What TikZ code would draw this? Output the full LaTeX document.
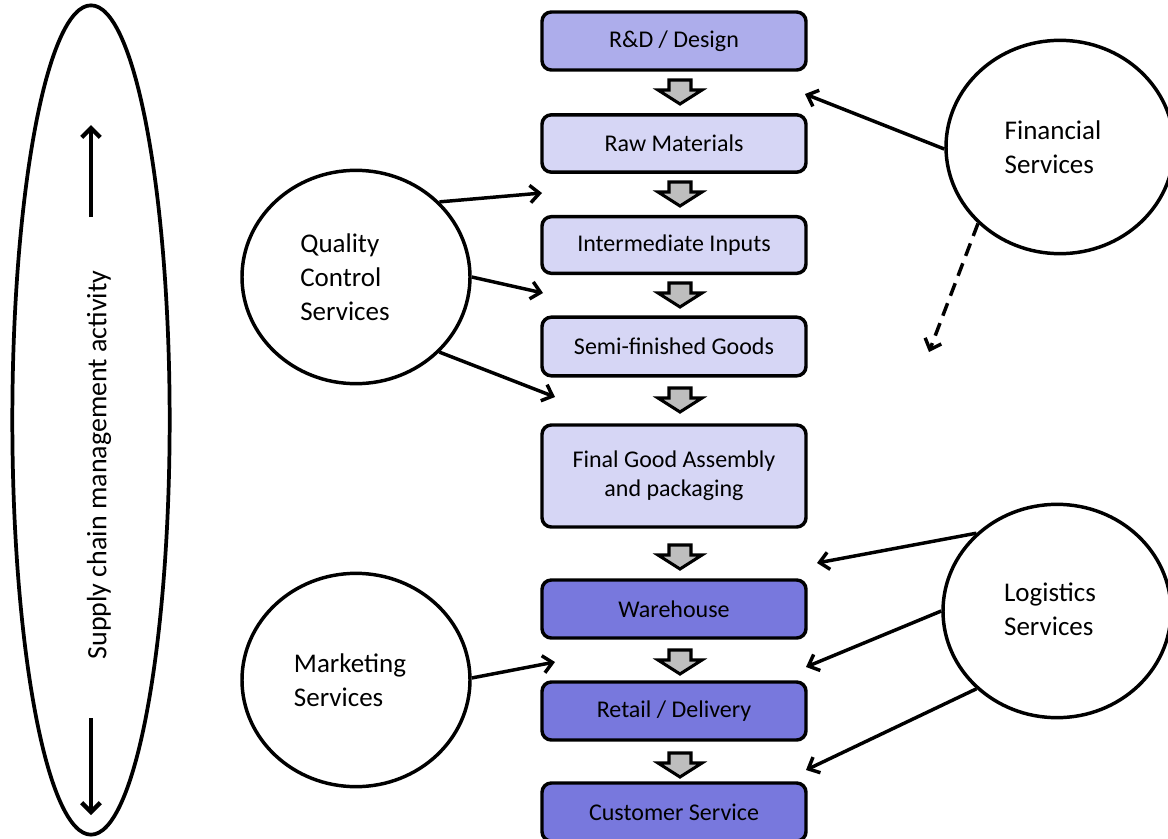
\documentclass[tikz,border=0pt]{standalone}
\usepackage{fontspec}
\setmainfont{Carlito}
\usetikzlibrary{shapes.geometric,arrows.meta}
\definecolor{boxtop}{RGB}{173,173,235}
\definecolor{boxlight}{RGB}{214,214,245}
\definecolor{boxdark}{RGB}{120,120,221}
\definecolor{arrgray}{RGB}{190,190,190}
\tikzset{
  stagebox/.style={draw=black, line width=2.6pt, rounded corners=7pt, minimum width=198pt,
    inner sep=0pt, align=center, font=\fontsize{18}{21.75}\selectfont},
  svc/.style={draw=black, ellipse, line width=2.6pt, minimum width=171pt, minimum height=160pt, inner sep=0pt},
  svctext/.style={align=left, inner sep=0pt, font=\fontsize{20.25}{25.5}\selectfont},
  conn/.style={line width=2.6pt, -{Straight Barb[length=7pt,width=13pt]}},
  blockarr/.pic={\draw[line width=2.3pt, fill=arrgray, line join=miter]
     (-11,0) -- (11,0) -- (11,10) -- (22,10) -- (0,24) -- (-22,10) -- (-11,10) -- cycle;}
}
\begin{document}
\begin{tikzpicture}[x=0.75pt,y=-0.75pt]
\useasboundingbox (0,0) rectangle (1168,839);
\fill[white] (0,0) rectangle (1168,839);

% left ellipse
\node[draw=black, ellipse, line width=2.8pt, minimum width=118pt, minimum height=622pt, inner sep=0pt] (scm) at (91,420) {};
\node[rotate=90, inner sep=0pt, font=\fontsize{21}{25}\selectfont] (scmtext) at (99,465) {Supply chain management activity};
\coordinate (upA) at (91,217);
\coordinate (upB) at (91,125);
\coordinate (dnA) at (91,718);
\coordinate (dnB) at (91,815);
\draw[line width=3.2pt, -{Straight Barb[length=7pt,width=14pt]}] (upA) -- (upB);
\draw[line width=3.2pt, -{Straight Barb[length=7pt,width=14pt]}] (dnA) -- (dnB);

% stage boxes
\node[stagebox, fill=boxtop,   minimum height=43.5pt] (rd)     at (674,41)  {R\&D / Design};
\node[stagebox, fill=boxlight, minimum height=43pt]   (raw)    at (674,143.5) {Raw Materials};
\node[stagebox, fill=boxlight, minimum height=42.5pt] (inter)  at (674,245) {Intermediate Inputs};
\node[stagebox, fill=boxlight, minimum height=44pt]   (semi)   at (674,346.5) {Semi-finished Goods};
\node[stagebox, fill=boxlight, minimum height=76.5pt] (final)  at (674,476) {Final Good Assembly\\and packaging};
\node[stagebox, fill=boxdark,  minimum height=43.5pt] (ware)   at (674,609) {Warehouse};
\node[stagebox, fill=boxdark,  minimum height=43.5pt] (retail) at (674,711) {Retail / Delivery};
\node[stagebox, fill=boxdark,  minimum height=43.5pt] (cust)   at (674,812) {Customer Service};

% block arrows
\foreach \yy in {80,182,283,388,545,650,753} {
  \pic at (680,\yy) {blockarr};
}

% service circles
\node[svc] (qc)  at (356,277) {};
\node[svc] (mk)  at (356,680) {};
\node[svc] (fin) at (1060,147) {};
\node[svc] (log) at (1057,611) {};
\node[svctext] (qct)  at (345,277) {Quality\\Control\\Services};
\node[svctext] (mkt)  at (350,680) {Marketing\\Services};
\node[svctext] (fint) at (1053,147) {Financial\\Services};
\node[svctext] (logt) at (1050,609) {Logistics\\Services};

% arrow targets
\coordinate (q1) at (542,193);
\coordinate (q2) at (543,293);
\coordinate (q3) at (555,397);
\coordinate (m1) at (555,662);
\coordinate (f1) at (805,94);
\coordinate (f2) at (929,352);
\coordinate (l1) at (817,563);
\coordinate (l2) at (806,667);
\coordinate (l3) at (806,770);

\draw[conn] (qc.42) -- (q1);
\draw[conn] (qc.0) -- (q2);
\draw[conn] (qc.-42) -- (q3);
\draw[conn] (mk.1) -- (m1);
\draw[conn] (fin.181) -- (f1);
\draw[conn, dash pattern=on 10pt off 6pt] (fin.223) -- (f2);
\draw[conn] (log.136) -- (l1);
\draw[conn] (log.180) -- (l2);
\draw[conn] (log.224) -- (l3);
\end{tikzpicture}
\end{document}
